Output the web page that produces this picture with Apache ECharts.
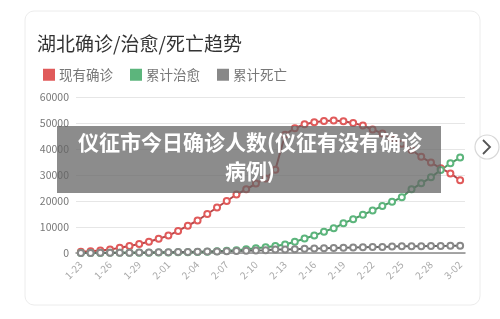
<!DOCTYPE html>
<html>
<head>
<meta charset="utf-8">
<script src="https://cdn.jsdelivr.net/npm/echarts@6/dist/echarts.min.js"></script>
<style>
html,body{margin:0;padding:0;background:#fff;}
#c{width:500px;height:319px;}
</style>
</head>
<body>
<div id="c"></div>
<script>
var titleText = '湖北确诊/治愈/死亡趋势';
var overlayText = '仪征市今日确诊人数(仪征有没有确诊\n病例)';
var seriesNames = ['现有确诊', '累计治愈', '累计死亡'];
var dates = ['1-23','1-24','1-25','1-26','1-27','1-28','1-29','1-30','1-31','2-01',
  '2-02','2-03','2-04','2-05','2-06','2-07','2-08','2-09','2-10','2-11',
  '2-12','2-13','2-14','2-15','2-16','2-17','2-18','2-19','2-20','2-21',
  '2-22','2-23','2-24','2-25','2-26','2-27','2-28','2-29','3-01','3-02'];
var current = [500,650,1000,1300,2000,2700,3500,4300,5500,6700,
  8500,10500,12500,15000,17500,20000,22500,24500,26700,28700,
  32000,45500,48000,49500,50300,50800,51000,50700,50000,49000,
  47500,46000,44000,42000,39600,37000,34800,32600,30600,28000];
var cured = [30,32,44,50,60,80,100,130,170,200,
  250,330,400,520,650,850,1100,1400,1800,2200,
  2700,3300,4300,5600,6700,8200,9500,11400,13000,14700,
  16300,18100,19700,21400,24500,26800,29100,31900,34500,36700];
var deaths = [24,39,52,76,100,125,162,204,249,294,
  350,414,479,549,618,699,780,871,974,1068,
  1310,1318,1457,1596,1696,1789,1921,2029,2144,2250,
  2346,2346,2495,2563,2615,2641,2682,2727,2761,2803];
var yTicks = [0,10000,20000,30000,40000,50000,60000];

var FONT = '"Noto Sans CJK SC", "Noto Sans", sans-serif';
var chart = echarts.init(document.getElementById('c'));
var colors = ['#e05a5a', '#5cb57c', '#888888'];
var lineColors = ['#b3474a', '#4f9b66', '#666666'];
var vals = [current, cured, deaths];

chart.setOption({
  animation: false,
  backgroundColor: '#ffffff',
  textStyle: { fontFamily: FONT },
  title: {
    text: titleText,
    left: 32, top: 29,
    textStyle: { fontSize: 19, fontWeight: 'normal', color: '#333', fontFamily: FONT }
  },
  legend: {
    left: 38, top: 63,
    icon: 'rect',
    itemWidth: 12, itemHeight: 12, itemGap: 17,
    itemStyle: { borderWidth: 0 },
    textStyle: { fontSize: 13.5, color: '#777', fontFamily: FONT, padding: [0,0,0,-1] },
    data: seriesNames
  },
  grid: { left: 76, right: 35, top: 97, bottom: 66 },
  xAxis: {
    type: 'category',
    data: dates,
    boundaryGap: true,
    axisLine: { lineStyle: { color: '#8a8a8a', width: 1.5 } },
    axisTick: { show: false },
    axisLabel: { rotate: 45, interval: 2, fontSize: 10, color: '#aaa', margin: 10, fontFamily: FONT }
  },
  yAxis: {
    type: 'value',
    min: yTicks[0], max: yTicks[yTicks.length - 1], interval: 10000,
    axisLine: { show: false },
    axisTick: { show: false },
    splitLine: { lineStyle: { color: '#e6e6e6' } },
    axisLabel: { fontSize: 10.5, color: '#777', margin: 7, fontFamily: FONT,
      formatter: function (v) { return String(v); } }
  },
  series: seriesNames.map(function (n, k) {
    return {
      name: n, type: 'line', data: vals[k],
      symbol: 'emptyCircle', symbolSize: 6, showAllSymbol: true,
      itemStyle: { color: colors[k], borderColor: lineColors[k], borderWidth: 1 },
      lineStyle: { color: lineColors[k], width: 2 }
    };
  }),
  graphic: [
    { type: 'rect', z: -10, shape: { x: 25, y: 11, width: 455, height: 294, r: 9 },
      style: { fill: '#fff', stroke: '#ececec', lineWidth: 1 } },
    { type: 'rect', z: 100, shape: { x: 57, y: 126, width: 384, height: 67 },
      style: { fill: 'rgba(100,100,100,0.74)' } },
    { type: 'text', z: 101, left: 'center', top: 128,
      style: { text: overlayText, fill: '#fff', font: 'bold 21px "Noto Sans CJK SC"', textAlign: 'center', lineHeight: 29 } },
    { type: 'circle', z: 100, shape: { cx: 487, cy: 147, r: 12 },
      style: { fill: '#fff', stroke: '#d8d8d8', lineWidth: 1.2 } },
    { type: 'polyline', z: 101, shape: { points: [[483, 140], [490, 147], [483, 154]] },
      style: { stroke: '#555', lineWidth: 1.8, fill: null } }
  ]
});
</script>
</body>
</html>
